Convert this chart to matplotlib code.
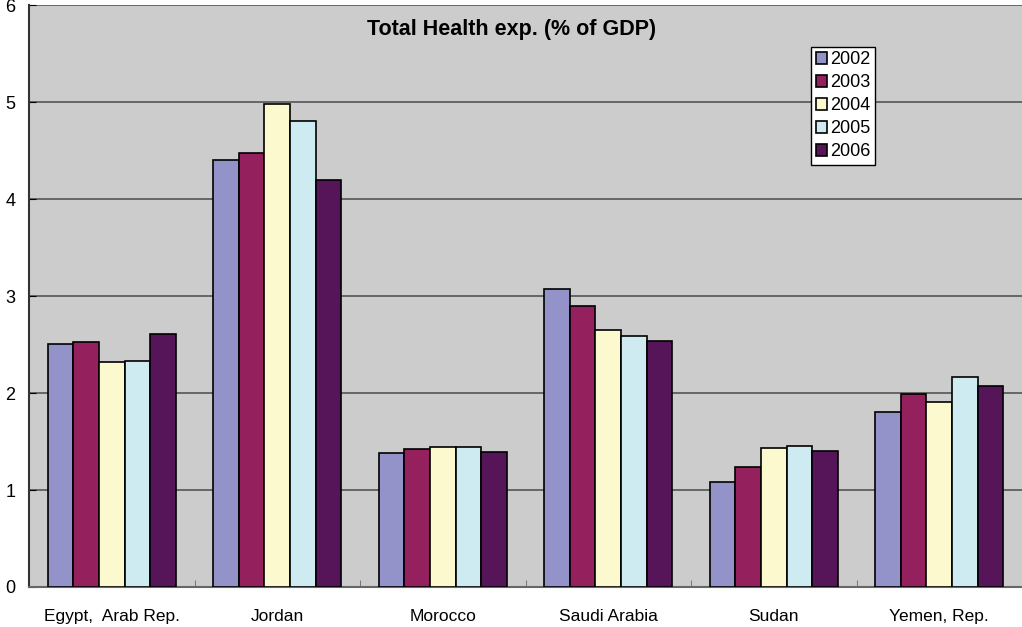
import matplotlib.pyplot as plt
import numpy as np

plt.rcParams['font.family'] = ['Liberation Sans', 'DejaVu Sans']

countries = ["Egypt,  Arab Rep.", "Jordan", "Morocco", "Saudi Arabia", "Sudan", "Yemen, Rep."]
years = ["2002", "2003", "2004", "2005", "2006"]
v2002 = [2.51, 4.40, 1.38, 3.07, 1.08, 1.80]
v2003 = [2.53, 4.47, 1.42, 2.90, 1.24, 1.99]
v2004 = [2.32, 4.98, 1.44, 2.65, 1.43, 1.91]
v2005 = [2.33, 4.80, 1.44, 2.59, 1.45, 2.17]
v2006 = [2.61, 4.20, 1.39, 2.54, 1.40, 2.07]
series = [v2002, v2003, v2004, v2005, v2006]
colors = ["#9393C9", "#94205E", "#FDF9CF", "#CDEBF1", "#561558"]

fig = plt.figure(figsize=(10.22, 6.27), dpi=100)
ax = fig.add_axes([0.0284, 0.0638, 0.9716, 0.9282])
ax.set_facecolor("#CCCCCC")

x = np.arange(len(countries))
w = 0.155
for i, vals in enumerate(series):
    ax.bar(x + (i - 2) * w, vals, w, color=colors[i], edgecolor="black",
           linewidth=1.2, label=years[i], zorder=3)

ax.set_xlim(-0.5, len(countries) - 0.5)
ax.set_ylim(0, 6)
ax.set_yticks(range(0, 7))
ax.yaxis.grid(True, color="#555555", linewidth=1.2, zorder=0)
ax.set_xticks(x)
ax.set_xticklabels(countries, fontsize=12.5)
ax.set_xticks(x[:-1] + 0.5, minor=True)
ax.tick_params(axis="x", which="major", length=0, pad=16)
ax.tick_params(axis="x", which="minor", direction="in", length=5, color="#666666")
ax.tick_params(axis="y", direction="in", length=5, labelsize=13, pad=10)

for s in ["top", "right"]:
    ax.spines[s].set_visible(False)
ax.spines["left"].set_color("#333333")
ax.spines["left"].set_linewidth(1.5)
ax.spines["bottom"].set_color("#666666")
ax.spines["bottom"].set_linewidth(1.5)

ax.text(0.486, 0.958, "Total Health exp. (% of GDP)", transform=ax.transAxes,
        ha="center", va="center", fontsize=15.5, fontweight="bold")

leg = ax.legend(loc="upper left", bbox_to_anchor=(0.7875, 0.928), fontsize=13,
                frameon=True, fancybox=False, edgecolor="black", framealpha=1,
                handlelength=0.65, handleheight=0.65, handletextpad=0.15,
                labelspacing=0.33, borderpad=0.25, borderaxespad=0)
leg.get_frame().set_linewidth(1.0)

fig.savefig("out.png", dpi=100)
